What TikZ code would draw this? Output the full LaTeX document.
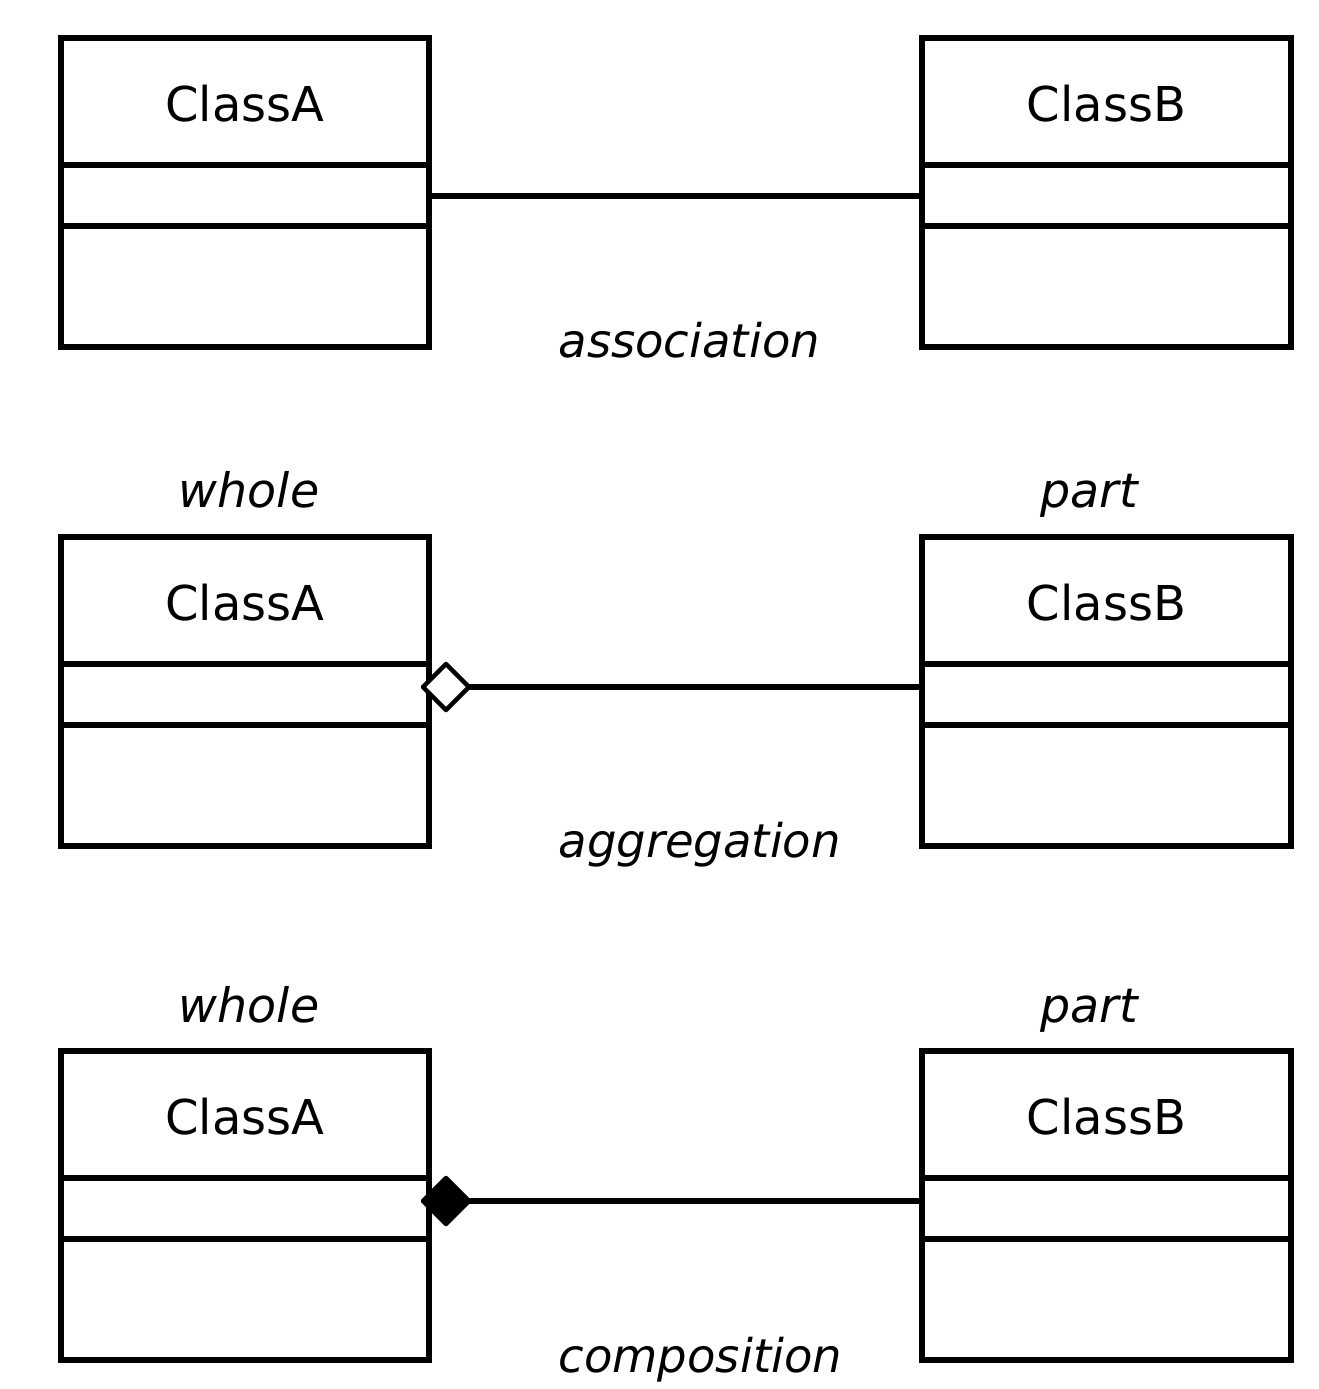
\documentclass[tikz,border=0pt]{standalone}
\usepackage{fontspec}
\setmainfont{DejaVu Sans}
\usetikzlibrary{calc,shapes.geometric}
\begin{document}
\begin{tikzpicture}[x=1pt,y=-1pt,
  classbox/.style={draw,line width=6pt,minimum width=368.5pt,minimum height=308.7pt,inner sep=0pt,outer sep=0pt},
  classname/.style={anchor=base,font=\fontsize{48}{56}\selectfont},
  rolelabel/.style={anchor=base,font=\fontsize{47.5}{56}\selectfont\itshape},
  kindlabel/.style={anchor=base west,font=\fontsize{46.5}{56}\selectfont\itshape},
  link/.style={line width=6pt},
  divider/.style={line width=6pt},
  aggdiamond/.style={diamond,draw,line width=4.5pt,line join=round,aspect=1,minimum width=46pt,minimum height=46pt,inner sep=0pt,outer sep=0pt,fill=white},
  compdiamond/.style={aggdiamond,fill=black}]
\useasboundingbox (0,0) rectangle (1318,1389);

% class boxes: left column (A), right column (B), three rows
\foreach \r/\top in {1/38,2/537,3/1051}{
  \node[classbox,anchor=north west] (a\r) at (60.5,\top) {};
  \node[classbox,anchor=north west] (b\r) at (922.3,\top) {};
  \foreach \c in {a,b}{
    \draw[divider] ($(\c\r.north west)+(0,127.3)$) -- ($(\c\r.north east)+(0,127.3)$);
    \draw[divider] ($(\c\r.north west)+(0,187.7)$) -- ($(\c\r.north east)+(0,187.7)$);
  }
  \node[classname] (na\r) at ($(a\r.north)+(0,83)$) {ClassA};
  \node[classname] (nb\r) at ($(b\r.north)+(0,83)$) {ClassB};
}

% association
\coordinate (p1) at ($(a1.north east)+(0,157.7)$);
\draw[link] (p1) -- (b1.west |- p1);
\node[kindlabel] (k1) at (555,357) {association};

% aggregation
\node[aggdiamond] (d2) at (446,687) {};
\draw[link] (d2.east) -- (b2.west |- d2.east);
\node[rolelabel] (w2) at (249,507) {whole};
\node[rolelabel] (q2) at (1089,507) {part};
\node[kindlabel] (k2) at (555,857) {aggregation};

% composition
\node[compdiamond] (d3) at (446,1201) {};
\draw[link] (d3.east) -- (b3.west |- d3.east);
\node[rolelabel] (w3) at (249,1022) {whole};
\node[rolelabel] (q3) at (1089,1022) {part};
\node[kindlabel] (k3) at (555,1372) {composition};
\end{tikzpicture}
\end{document}
